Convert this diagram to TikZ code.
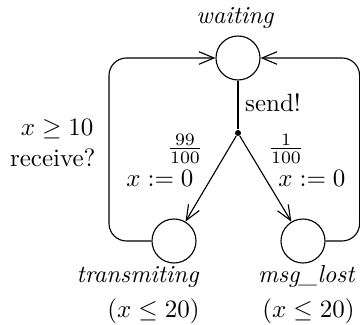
\documentclass[tikz,border=0pt]{standalone}
\usetikzlibrary{arrows.meta}
\begin{document}
\begin{tikzpicture}[x=0.4pt,y=-0.4pt,
  loc/.style={circle,draw,line width=0.45pt,minimum size=17.6pt,inner sep=0pt},
  edge/.style={draw,line width=0.45pt},
  tip/.style={-{Straight Barb[length=6pt,width=5pt]}},
  lbl/.style={inner sep=0pt,anchor=base},
  itl/.style={lbl,font=\fontsize{9.8}{12}\selectfont\itshape}]
\useasboundingbox (0,0) rectangle (360,325);
\node[loc] (w) at (238,58) {};
\node[loc] (t) at (174,241) {};
\node[loc] (m) at (303,241) {};
\node[circle,fill,inner sep=0pt,minimum size=2.4pt] (d) at (238,133) {};
\coordinate (lb) at (109,241);
\coordinate (lt) at (109,58);
\coordinate (rb) at (359.6,241);
\coordinate (rt) at (359.6,58);
\draw[edge] (w) -- (d);
\draw[edge,tip] (d) -- (t);
\draw[edge,tip] (d) -- (m);
\draw[edge,tip,rounded corners=7pt] (t.west) -- (lb) -- (lt) -- (w.west);
\draw[edge,tip,rounded corners=7pt] (m.east) -- (rb) -- (rt) -- (w.east);
\node[itl] (wl) at (235,24) {waiting};
\node[lbl] (sl) at (273,112) {send!};
\node[lbl,anchor=base east] (g) at (94,136) {$x\geq 10$};
\node[lbl,anchor=base east] (r) at (96,167) {receive?};
\node[lbl] (p1) at (185,155) {$\frac{99}{100}$};
\node[lbl] (a1) at (160,187) {$x:=0$};
\node[lbl] (p2) at (286,155) {$\frac{1}{100}$};
\node[lbl] (a2) at (312,187) {$x:=0$};
\node[itl,anchor=base east] (tl) at (199,283) {transmiting};
\node[lbl,anchor=base east] (ti) at (200,318) {$(x\leq 20)$};
\node[itl,anchor=base east] (ml) at (355,283) {msg\_lost};
\node[lbl,anchor=base east] (mi) at (355,318) {$(x\leq 20)$};
\end{tikzpicture}
\end{document}
